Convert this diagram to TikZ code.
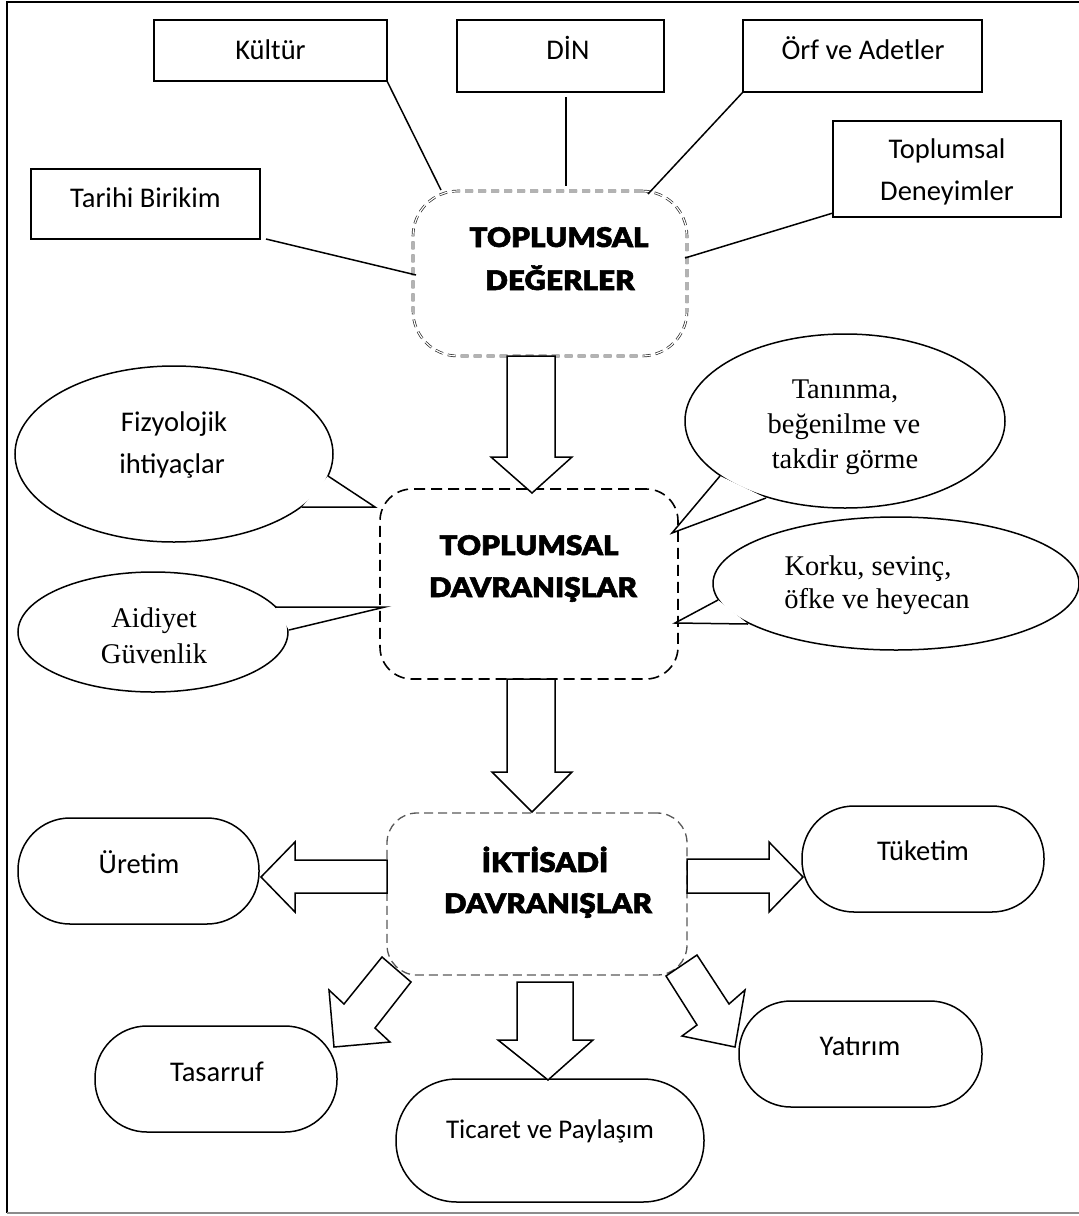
\documentclass[tikz,border=0pt]{standalone}
\usepackage{fontspec}
\setmainfont{Liberation Serif}
\newfontfamily\carl{Carlito}
\IfFontExistsTF{Lato Black}
  {\newfontfamily\heavy{Lato Black}[FakeStretch=1.1, FakeBold=2]}
  {\newfontfamily\heavy{Liberation Sans}[UprightFont={* Bold}, FakeBold=3, FakeStretch=1.05]}
\usetikzlibrary{shapes.geometric}
\tikzset{
  sqbox/.style={draw, line width=1.5pt, inner sep=0pt, outer sep=0pt},
  stad/.style={draw, line width=1.5pt, inner sep=0pt, outer sep=0pt, rounded corners=52pt},
  bub/.style={draw, ellipse, line width=1.5pt, fill=white, inner sep=0pt, outer sep=0pt},
  conn/.style={line width=1.5pt},
  barrow/.style={draw, fill=white, line width=1.5pt, line join=miter},
  stxt/.style={font=\carl\fontsize{28.5}{30}\selectfont, anchor=base, inner sep=0pt},
  rtxt/.style={font=\fontsize{28.5}{30}\selectfont, anchor=base, inner sep=0pt},
  htxt/.style={font=\heavy\fontsize{27}{30}\selectfont, anchor=base, inner sep=0pt},
}
\newcommand\bubtail[3]{%
  \fill[white] #1 -- #2 -- #3 -- cycle;
  \draw[line width=1.5pt, line join=miter] #1 -- #2 -- #3;}
\begin{document}
\begin{tikzpicture}[x=1pt,y=-1pt]
\useasboundingbox (0,0) rectangle (1079,1216);
% frame
\draw[line width=2pt] (1079,2) -- (7,2) -- (7,1213);
\draw[line width=1.5pt, black!45] (7,1213) -- (1079,1213);

% top boxes
\node[sqbox, minimum width=233pt, minimum height=61pt] (kultur) at (270.5,50.5) {};
\node[stxt] (tkultur) at (270.5,59) {Kültür};
\node[sqbox, minimum width=207pt, minimum height=72pt] (din) at (560.5,56) {};
\node[stxt] (tdin) at (568,59) {DİN};
\node[sqbox, minimum width=239pt, minimum height=72pt] (orf) at (862.5,56) {};
\node[stxt] (torf) at (863,59) {Örf ve Adetler};
\node[sqbox, minimum width=228pt, minimum height=96pt] (deney) at (947,169) {};
\node[stxt] (tdeney1) at (947,158) {Toplumsal};
\node[stxt] (tdeney2) at (947,200) {Deneyimler};
\node[sqbox, minimum width=229pt, minimum height=70pt] (tarihi) at (145.5,204) {};
\node[stxt] (ttarihi) at (145.5,207) {Tarihi Birikim};

% TOPLUMSAL DEGERLER
\node[draw=black!85, double, double distance=1.2pt, line width=0.7pt,
      dash pattern=on 8pt off 5pt, rounded corners=45pt,
      minimum width=274pt, minimum height=165pt, inner sep=0pt, outer sep=0pt] (deger) at (550,273.5) {};
\node[htxt] (tdeger1) at (559,247) {TOPLUMSAL};
\node[htxt] (tdeger2) at (560,290) {DEĞERLER};

% connectors
\coordinate (eK) at (441,190);
\coordinate (sD) at (566,97);
\coordinate (eD) at (566,186);
\coordinate (eO) at (648,194);
\coordinate (sT) at (833,213);
\coordinate (eT) at (685,258);
\coordinate (sB) at (266,239);
\coordinate (eB) at (416,275);
\draw[conn] (kultur.south east) -- (eK);
\draw[conn] (sD) -- (eD);
\draw[conn] (orf.south west) -- (eO);
\draw[conn] (sT) -- (eT);
\draw[conn] (sB) -- (eB);

% TOPLUMSAL DAVRANISLAR
\node[draw, line width=1.6pt, dash pattern=on 11pt off 6pt, rounded corners=32pt,
      minimum width=298pt, minimum height=190pt, inner sep=0pt, outer sep=0pt] (davr) at (529,584) {};
\node[htxt] (tdavr1) at (529,555) {TOPLUMSAL};
\node[htxt] (tdavr2) at (533,597) {DAVRANIŞLAR};

% arrow 1
\draw[barrow] (507,356) -- (507,457) -- (491,457) -- (532,493) -- (572,457) -- (555,457) -- (555,356) -- cycle;

% bubbles
\node[bub, minimum width=318pt, minimum height=176pt] (fiz) at (174,454) {};
\bubtail{(328,476)}{(375,507)}{(302,507)}
\node[stxt] (tfiz1) at (174,431) {Fizyolojik};
\node[stxt] (tfiz2) at (172,473) {ihtiyaçlar};

\node[bub, minimum width=270pt, minimum height=120pt] (aid) at (153,632) {};
\bubtail{(275,607)}{(385,607)}{(289,630)}
\node[rtxt] (taid1) at (154,627) {Aidiyet};
\node[rtxt] (taid2) at (154,663) {Güvenlik};

\node[bub, minimum width=320pt, minimum height=174pt] (tan) at (845,421) {};
\bubtail{(720,476)}{(672,533)}{(766,498)}
\node[rtxt] (ttan1) at (845,398) {Tanınma,};
\node[rtxt] (ttan2) at (844,433) {beğenilme ve};
\node[rtxt] (ttan3) at (845,468) {takdir görme};

\node[bub, minimum width=366pt, minimum height=133pt] (kor) at (896,583.5) {};
\bubtail{(718,600)}{(675,623)}{(748,624)}
\node[rtxt] (tkor1) at (868,575) {Korku, sevinç,};
\node[rtxt] (tkor2) at (877,608) {öfke ve heyecan};

% arrow 2
\draw[barrow] (507,679) -- (507,772) -- (492,772) -- (532,812) -- (572,772) -- (555,772) -- (555,679) -- cycle;

% IKTISADI DAVRANISLAR
\node[draw=black!65, line width=1.3pt, dash pattern=on 9pt off 5pt, rounded corners=30pt,
      minimum width=300pt, minimum height=162pt, inner sep=0pt, outer sep=0pt] (ikt) at (537,894) {};
\node[htxt] (tikt1) at (545,872) {İKTİSADİ};
\node[htxt] (tikt2) at (548,913) {DAVRANIŞLAR};

% outcome boxes
\node[stad, minimum width=241pt, minimum height=106pt] (uretim) at (138.5,871) {};
\node[stxt] (turetim) at (139,873) {Üretim};
\node[stad, minimum width=242pt, minimum height=106pt] (tuketim) at (923,859) {};
\node[stxt] (ttuketim) at (923,860) {Tüketim};
\node[stad, minimum width=242pt, minimum height=106pt] (tasarruf) at (216,1079) {};
\node[stxt] (ttasarruf) at (217,1081) {Tasarruf};
\node[stad, minimum width=243pt, minimum height=106pt] (yatirim) at (860.5,1054) {};
\node[stxt] (tyatirim) at (860,1055) {Yatırım};
\node[stad, rounded corners=61pt, minimum width=308pt, minimum height=123pt] (ticaret) at (550,1140.5) {};
\node[stxt, font=\carl\fontsize{27}{29}\selectfont] (tticaret) at (550,1138) {Ticaret ve Paylaşım};

% block arrows from IKTISADI
\draw[barrow] (387,860) -- (295,860) -- (295,842) -- (261,877) -- (295,912) -- (295,893) -- (387,893) -- cycle;
\draw[barrow] (687,859) -- (769,859) -- (769,842) -- (803,877) -- (769,912) -- (769,893) -- (687,893) -- cycle;
\draw[barrow] (517,982) -- (517,1040) -- (498,1040) -- (548,1080) -- (593,1040) -- (573,1040) -- (573,982) -- cycle;
\draw[barrow] (382,957) -- (411,982) -- (375,1028) -- (390,1042) -- (334,1047) -- (329,990) -- (344,1004) -- cycle;
\draw[barrow] (697,955) -- (729,1004) -- (745,990) -- (735,1047) -- (682,1036) -- (697,1025) -- (666,976) -- cycle;
\end{tikzpicture}
\end{document}
